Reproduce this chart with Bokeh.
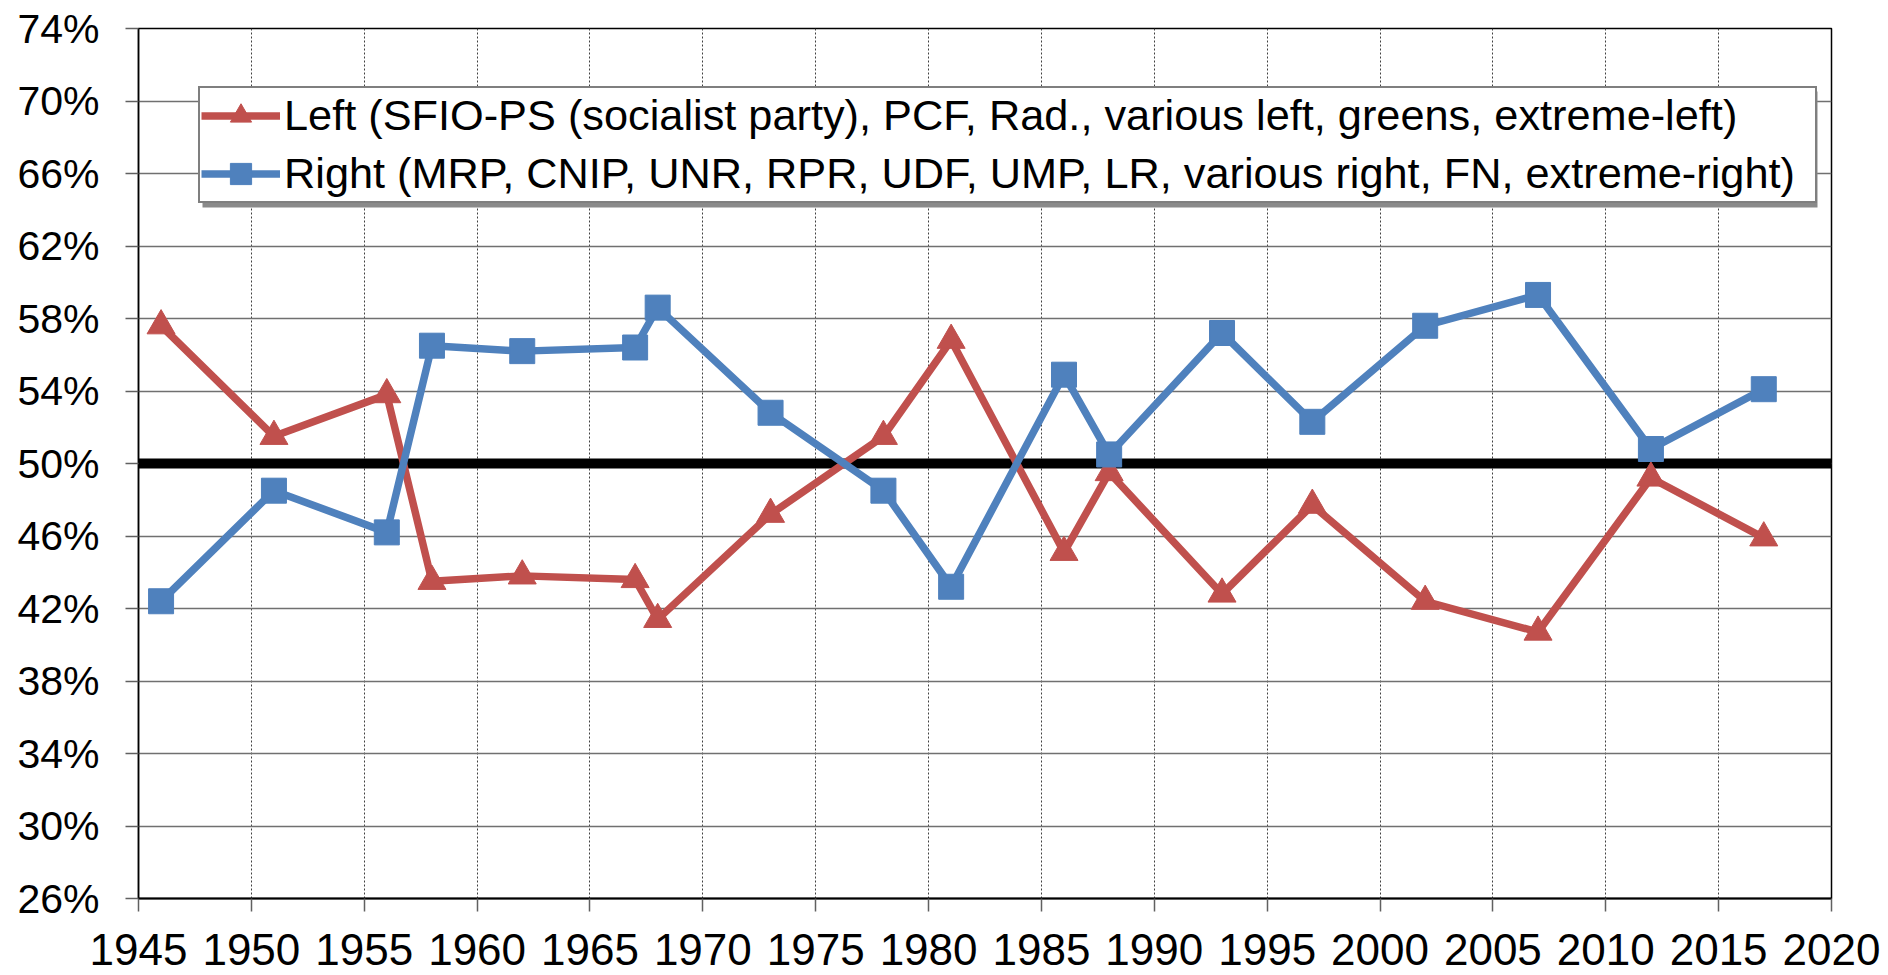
from bokeh.plotting import figure
from bokeh.models import (Range1d, FixedTicker, PrintfTickFormatter, Span, Legend,
                          LegendItem, BoxAnnotation)
from bokeh.embed import file_html
from bokeh.resources import INLINE

# ---- data -------------------------------------------------------------
years = [1946, 1951, 1956, 1958, 1962, 1967, 1968, 1973, 1978, 1981,
         1986, 1988, 1993, 1997, 2002, 2007, 2012, 2017]
left_vote = [57.6, 51.5, 53.8, 43.5, 43.8, 43.6, 41.4, 47.2, 51.5, 56.8,
             45.1, 49.5, 42.8, 47.7, 42.4, 40.7, 49.2, 45.9]
right_vote = [42.4, 48.5, 46.2, 56.5, 56.2, 56.4, 58.6, 52.8, 48.5, 43.2,
              54.9, 50.5, 57.2, 52.3, 57.6, 59.3, 50.8, 54.1]
left_label = "Left (SFIO-PS (socialist party), PCF, Rad., various left, greens, extreme-left)"
right_label = "Right (MRP, CNIP, UNR, RPR, UDF, UMP, LR, various right, FN, extreme-right)"
x_ticks = [1945, 1950, 1955, 1960, 1965, 1970, 1975, 1980, 1985, 1990,
           1995, 2000, 2005, 2010, 2015, 2020]
y_ticks = [26, 30, 34, 38, 42, 46, 50, 54, 58, 62, 66, 70, 74]
threshold = 50

RED = "#C0504D"
BLUE = "#4F81BD"
FONT = "Liberation Sans"

p = figure(width=1888, height=975, output_backend="svg", toolbar_location=None,
           x_range=Range1d(x_ticks[0], x_ticks[-1]),
           y_range=Range1d(y_ticks[0], y_ticks[-1]),
           min_border_left=138, min_border_right=57,
           min_border_top=28, min_border_bottom=77)
p.background_fill_color = "white"
p.border_fill_color = "white"
p.outline_line_color = "black"
p.outline_line_width = 1.5

# axes
p.xaxis.ticker = FixedTicker(ticks=x_ticks)
p.yaxis.ticker = FixedTicker(ticks=y_ticks)
p.yaxis.formatter = PrintfTickFormatter(format="%d%%")
for ax in (p.xaxis[0], p.yaxis[0]):
    ax.axis_line_color = "black"
    ax.axis_line_width = 2
    ax.major_tick_in = 0
    ax.major_tick_out = 13
    ax.major_tick_line_color = "#606060"
    ax.major_tick_line_width = 1.5
    ax.minor_tick_line_color = None
    ax.major_label_text_font = FONT
    ax.major_label_text_color = "black"
p.xaxis.major_label_text_font_size = "44px"
p.xaxis.major_label_standoff = 22
p.yaxis.major_label_text_font_size = "41px"
p.yaxis.major_label_standoff = 26
p.yaxis.axis_line_width = 1.5

# grids
p.ygrid.grid_line_color = "#707070"
p.ygrid.grid_line_width = 1.5
p.xgrid.grid_line_color = "#404040"
p.xgrid.grid_line_width = 1
p.xgrid.grid_line_dash = "2 2"

# 50% line
p.add_layout(Span(location=threshold, dimension="width", line_color="black",
                  line_width=10, level="underlay"))

# series
l_line = p.line(years, left_vote, line_color=RED, line_width=7.5, line_join="round")
l_pts = p.scatter(years, left_vote, marker="triangle", size=28,
                  fill_color=RED, line_color=RED)
r_line = p.line(years, right_vote, line_color=BLUE, line_width=7.5, line_join="round")
r_pts = p.scatter(years, right_vote, marker="square", size=25,
                  fill_color=BLUE, line_color=BLUE)

# legend drop shadow (screen units, relative to the plot frame)
p.add_layout(BoxAnnotation(left=64, right=1679, bottom=691, top=807,
                           left_units="screen", right_units="screen",
                           bottom_units="screen", top_units="screen",
                           fill_color="#8a8a8a", fill_alpha=1, line_color=None,
                           level="annotation"))

legend = Legend(items=[LegendItem(label=left_label, renderers=[l_line, l_pts]),
                       LegendItem(label=right_label, renderers=[r_line, r_pts])],
                location=(60, 695),
                label_text_font=FONT, label_text_font_size="43.3px",
                label_text_color="black",
                glyph_width=79, glyph_height=53, label_height=53, label_width=1530,
                label_standoff=4, spacing=5, padding=1, margin=0,
                border_line_color="black", border_line_width=2.5,
                background_fill_color="white", background_fill_alpha=1)
p.add_layout(legend)

open("out.html", "w").write(file_html(p, INLINE))
